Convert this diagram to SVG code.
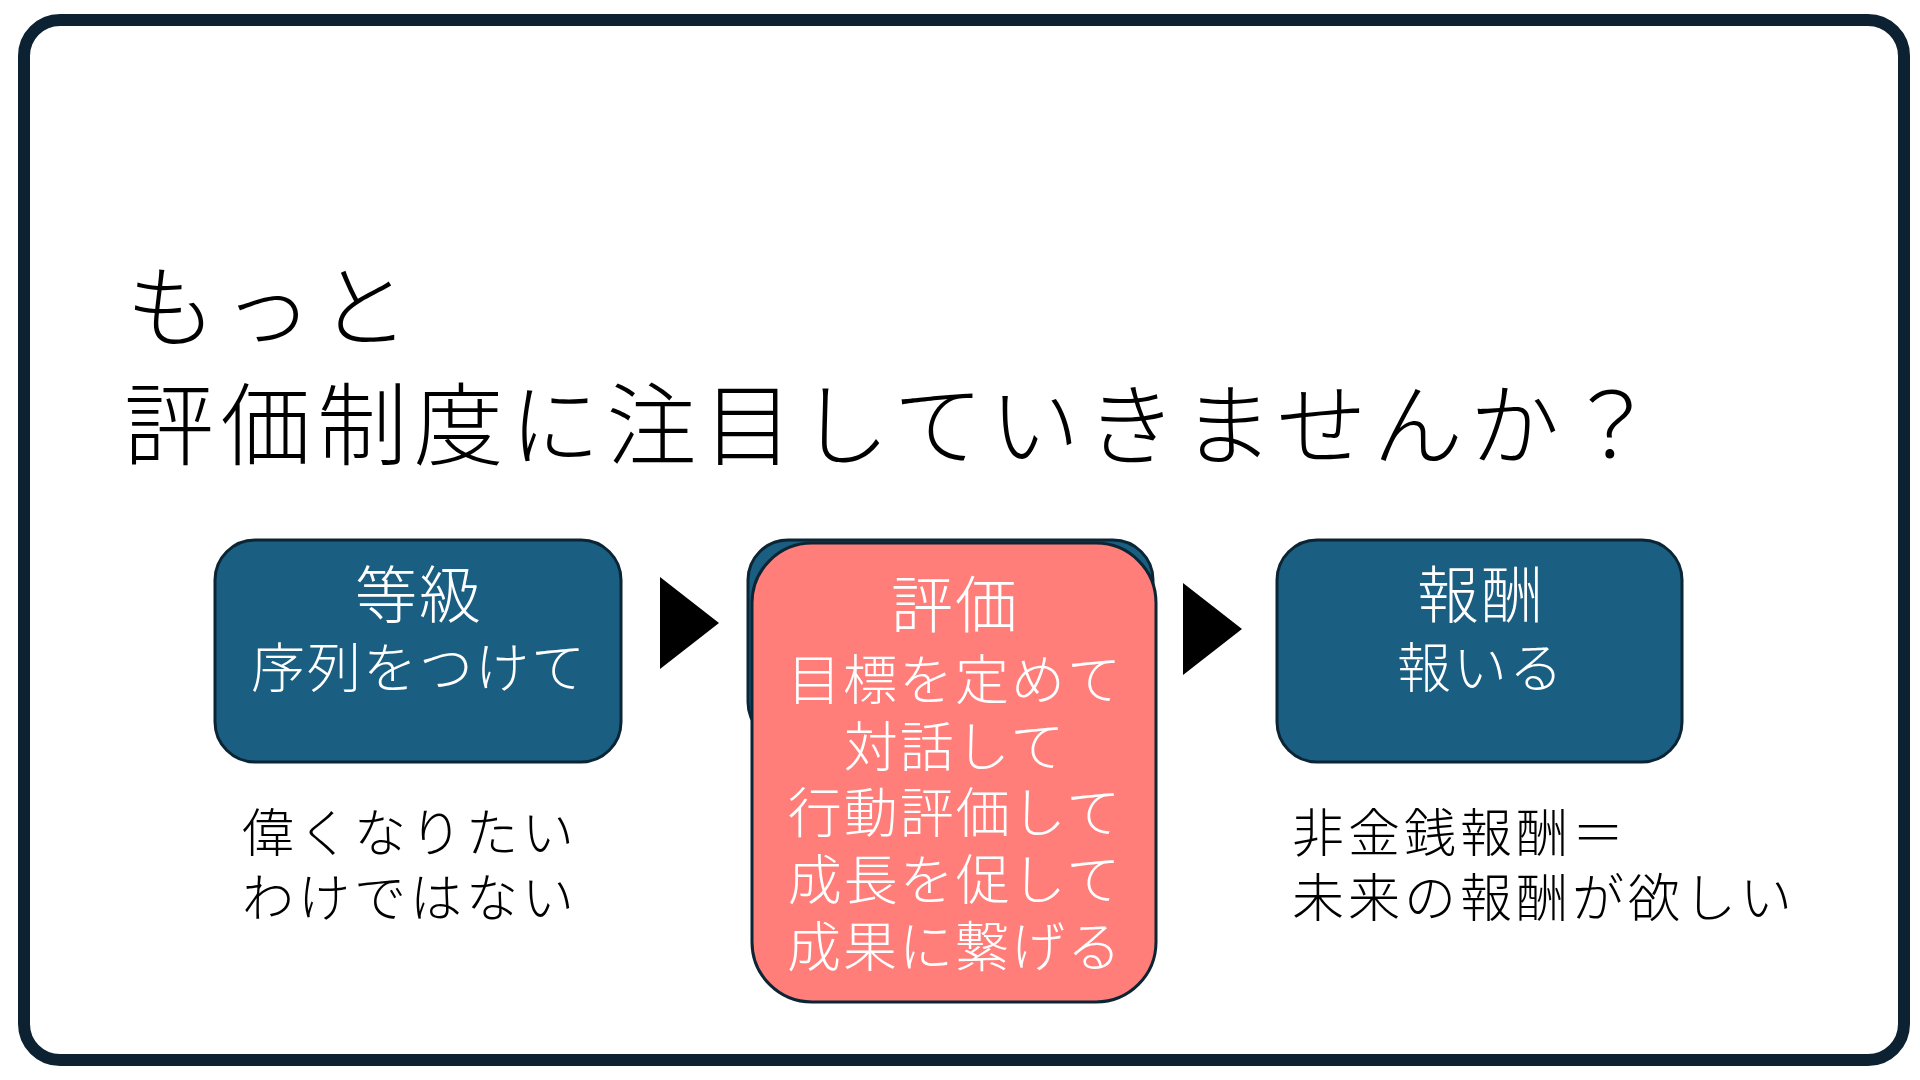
<svg xmlns="http://www.w3.org/2000/svg" width="1920" height="1080" viewBox="0 0 1920 1080">
<style>
text{font-family:"Noto Sans CJK JP","Noto Sans CJK SC",sans-serif;font-weight:300}
.title{font-size:90px;fill:#000;letter-spacing:6.5px}
.head{font-size:62px;fill:#fff;text-anchor:middle;letter-spacing:2px}
.sub{font-size:54px;fill:#fff;text-anchor:middle;letter-spacing:2px}
.note{font-size:52px;fill:#000;letter-spacing:4px}
.box{fill:#1a5e82;stroke:#0b2535;stroke-width:3}
.pink{fill:#ff7e7a;stroke:#0b2535;stroke-width:3}
.arrow{fill:#000}
</style>
<rect x="0" y="0" width="1920" height="1080" fill="#fff"/>
<rect id="frame" x="24" y="20" width="1880" height="1040" rx="36" ry="36" fill="#fff" stroke="#0c2233" stroke-width="12"/>
<g id="title">
<text class="title" x="126" y="340">もっと</text>
<text class="title" x="124" y="458">評価制度に注目していきませんか？</text>
</g>
<g id="node-grade">
<rect class="box" x="215" y="540" width="406" height="222" rx="40" ry="40"/>
<text class="head" x="419" y="618">等級</text>
<text class="sub" x="419" y="688">序列をつけて</text>
</g>
<g id="node-eval">
<rect class="box" x="748" y="540" width="405" height="202" rx="40" ry="40"/>
<rect class="pink" x="752" y="543" width="404" height="459" rx="60" ry="60"/>
<text class="head" x="955" y="628">評価</text>
<text class="sub" x="955" y="700">目標を定めて</text>
<text class="sub" x="955" y="767">対話して</text>
<text class="sub" x="955" y="833">行動評価して</text>
<text class="sub" x="955" y="900">成長を促して</text>
<text class="sub" x="955" y="967">成果に繋げる</text>
</g>
<g id="node-reward">
<rect class="box" x="1277" y="540" width="405" height="222" rx="40" ry="40"/>
<text class="head" x="1481" y="618">報酬</text>
<text class="sub" x="1481" y="688">報いる</text>
</g>
<g id="connectors">
<polygon class="arrow" points="660,577 719,623 660,669"/>
<polygon class="arrow" points="1183,583 1242,629 1183,675"/>
</g>
<g id="notes">
<text class="note" x="242" y="852">偉くなりたい</text>
<text class="note" x="242" y="917">わけではない</text>
<text class="note" x="1292" y="852">非金銭報酬＝</text>
<text class="note" x="1292" y="917">未来の報酬が欲しい</text>
</g>
</svg>
